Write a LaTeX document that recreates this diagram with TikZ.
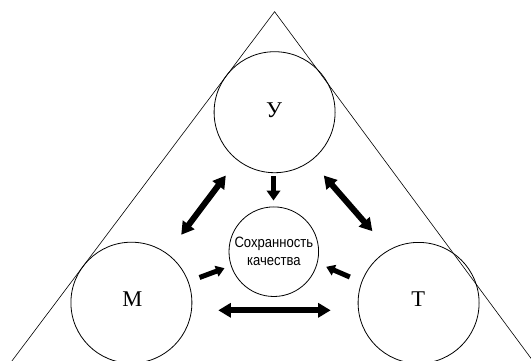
\documentclass[tikz,border=0pt]{standalone}
\usepackage{fontspec}
\setmainfont{Liberation Serif}
\newfontfamily\narrowsans[FakeStretch=0.87]{Liberation Sans}
\usetikzlibrary{arrows.meta}
\begin{document}
\begin{tikzpicture}[x=1pt,y=-1pt,
  circ/.style={circle,draw,line width=0.8pt,minimum size=121pt,inner sep=0pt},
  smallcirc/.style={circle,draw,line width=0.8pt,minimum size=89.6pt,inner sep=0pt,
     align=center,font=\narrowsans\fontsize{15}{18}\selectfont},
  letter/.style={font=\fontsize{22.5}{26}\selectfont,inner sep=0pt},
  edge/.style={line width=0.6pt},
  dblarrow/.style={line width=6pt,{Triangle[width=14pt,length=12.5pt]}-{Triangle[width=14pt,length=12.5pt]}},
  onearrow/.style={line width=5.5pt,-{Triangle[width=13.5pt,length=10pt]}},
  smallarrow/.style={line width=5pt,-{Triangle[width=11pt,length=8.5pt]}}]
\useasboundingbox (0,0) rectangle (531,361);
\clip (0,0) rectangle (531,361);
% triangle
\coordinate (apex) at (274.6,11.7);
\coordinate (bl) at (11.9,361);
\coordinate (br) at (533,361);
\draw[edge] (bl) -- (apex) -- (br);
% circles
\node[circ] (U) at (274.6,112.2) {};
\node[circ] (M) at (131.4,302.7) {};
\node[circ] (T) at (418.6,302.9) {};
\node[smallcirc] (C) at (273.8,251.7) {Сохранность\\качества};
\node[letter] (Ul) at (274.2,110.5) {У};
\node[letter] (Ml) at (132.5,299.5) {М};
\node[letter] (Tl) at (418.3,299.5) {Т};
% arrow ends
\coordinate (a1s) at (273.5,176.5);
\coordinate (a1e) at (273.5,200.5);
\coordinate (a2s) at (225.8,175.5);
\coordinate (a2e) at (181.2,234.8);
\coordinate (a3s) at (323.8,175.5);
\coordinate (a3e) at (372.4,231.2);
\coordinate (a4s) at (218.3,310.3);
\coordinate (a4e) at (330.7,310.3);
\coordinate (a5s) at (199.5,277.5);
\coordinate (a5e) at (224.5,268.2);
\coordinate (a6s) at (349.8,277.0);
\coordinate (a6e) at (326.2,266.8);
\draw[onearrow] (a1s) -- (a1e);
\draw[dblarrow] (a2s) -- (a2e);
\draw[dblarrow] (a3s) -- (a3e);
\draw[dblarrow] (a4s) -- (a4e);
\draw[smallarrow] (a5s) -- (a5e);
\draw[smallarrow] (a6s) -- (a6e);
\end{tikzpicture}
\end{document}
